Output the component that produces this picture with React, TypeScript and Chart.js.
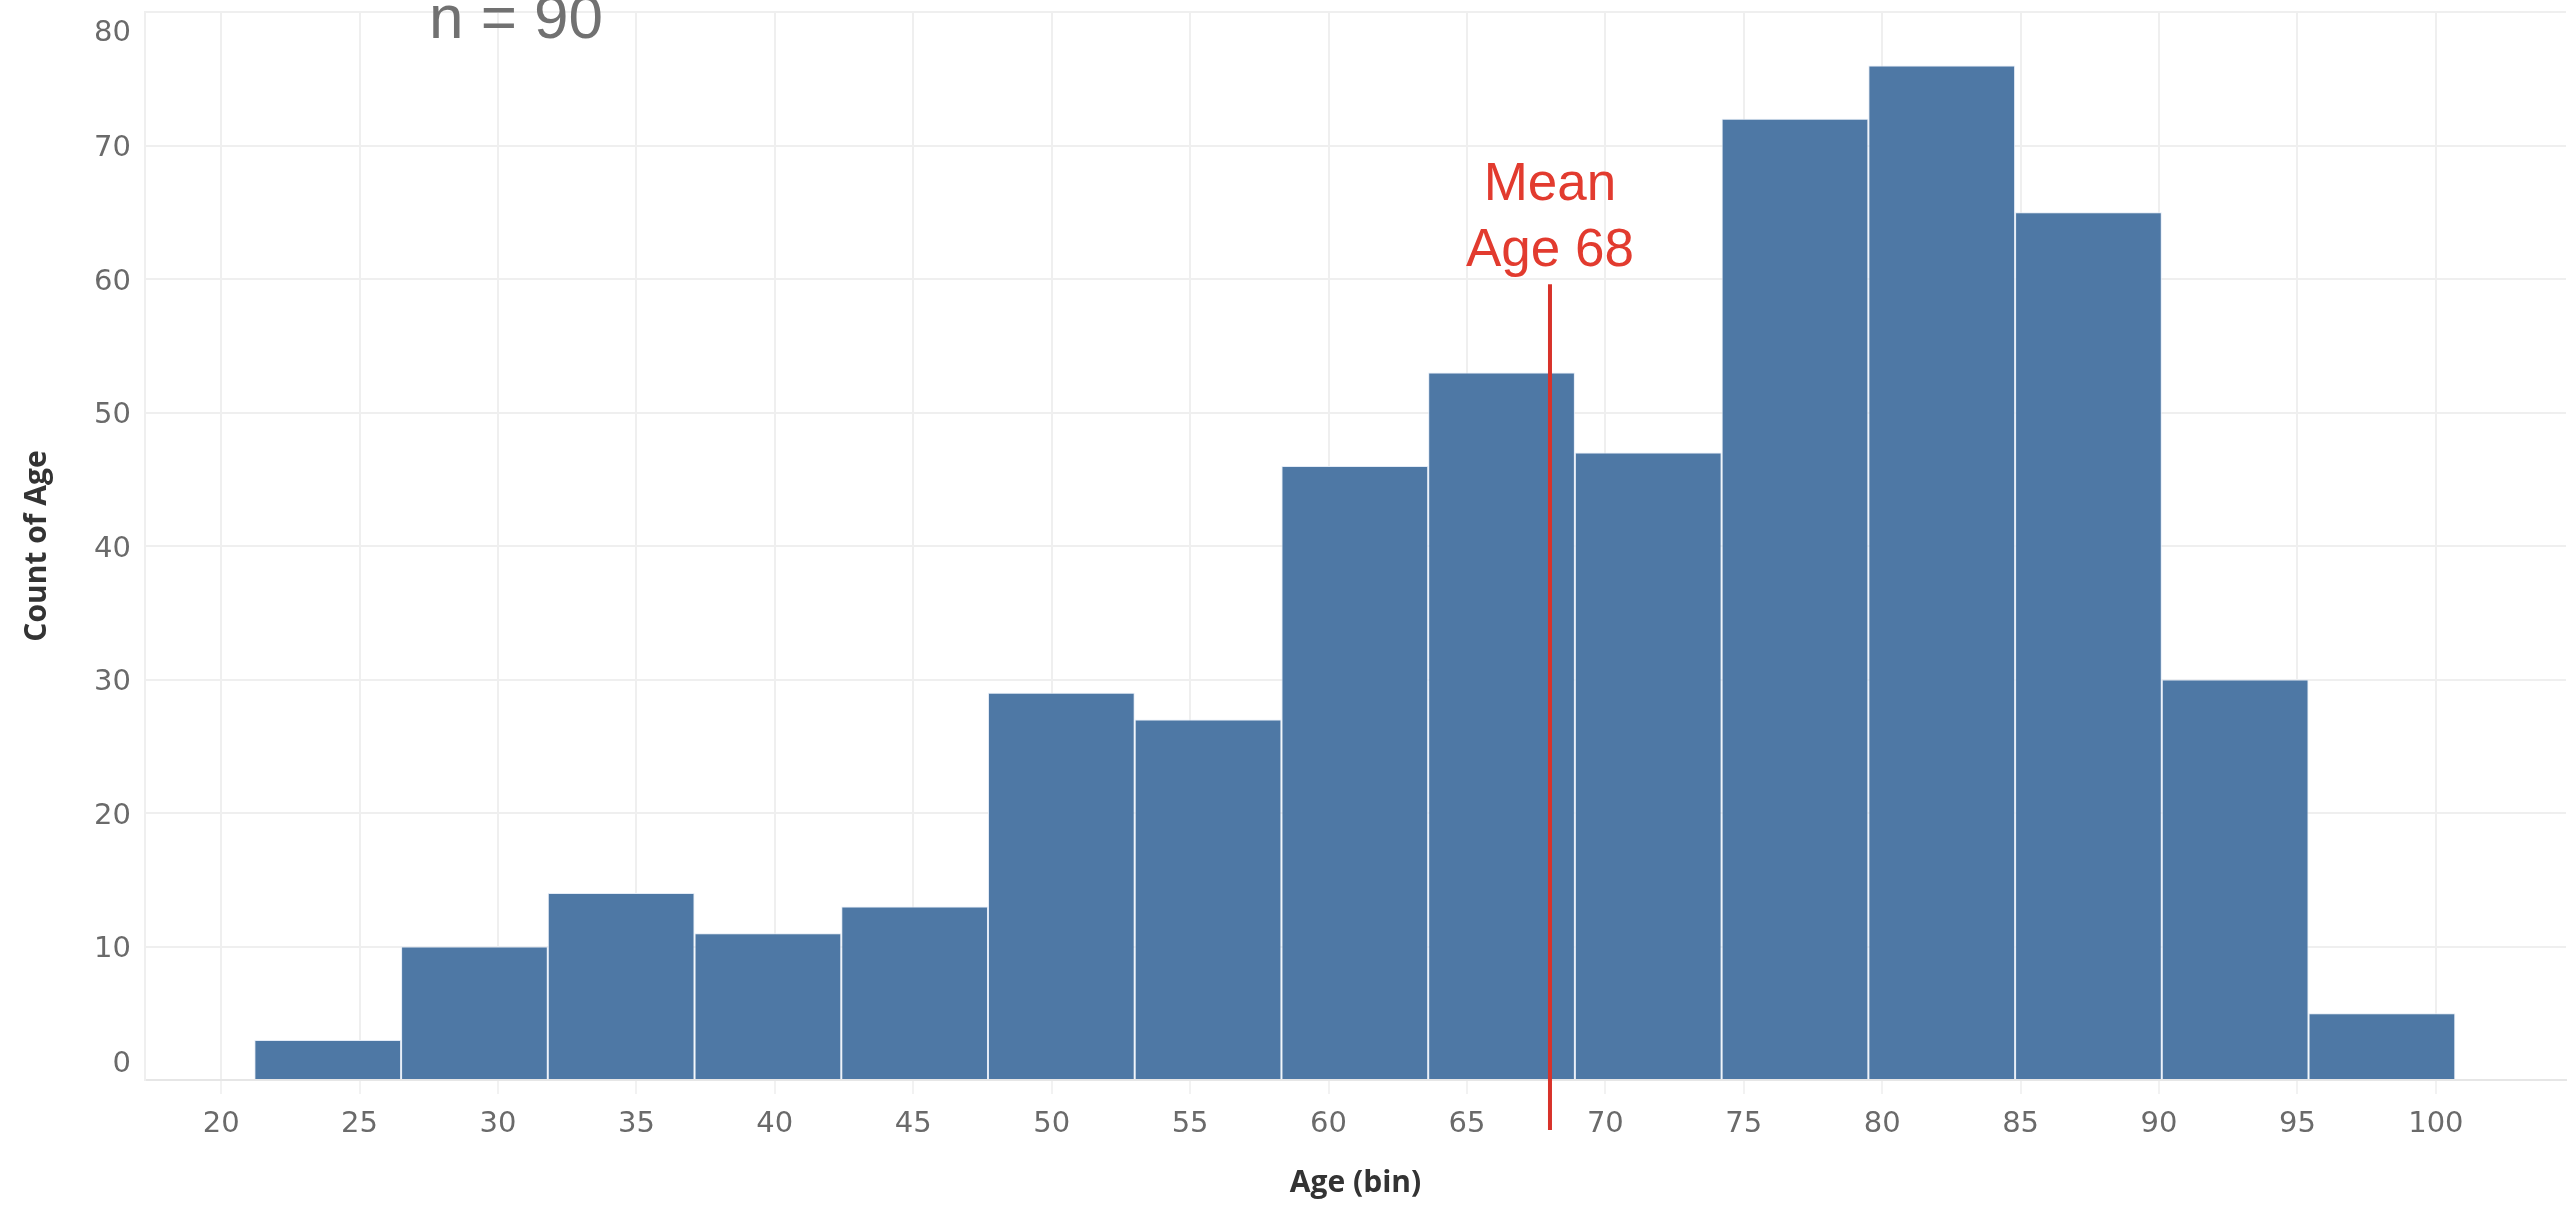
import React, { useEffect, useRef } from "react";
import { Chart, registerables } from "chart.js";

Chart.register(...registerables);

// ---- data ----
const binEdges = [21.2, 26.5, 31.8, 37.1, 42.4, 47.7, 53.0, 58.3, 63.6, 68.9, 74.2, 79.5, 84.8, 90.1, 95.4, 100.7];
const ageCounts = [3, 10, 14, 11, 13, 29, 27, 46, 53, 47, 72, 76, 65, 30, 5];
const xTickValues = [20, 25, 30, 35, 40, 45, 50, 55, 60, 65, 70, 75, 80, 85, 90, 95, 100];
const yTickValues = [0, 10, 20, 30, 40, 50, 60, 70, 80];
const meanAge = 68;
const meanLabelLines = ["Mean", "Age 68"];
const sampleLabel = "n = 90";
const xTitle = "Age (bin)";
const yTitle = "Count of Age";

const W = 2569;
const H = 1210;

export default function App() {
  const ref = useRef<HTMLCanvasElement | null>(null);

  useEffect(() => {
    if (!ref.current) return;
    const binWidth = binEdges[1] - binEdges[0];
    const tickStep = xTickValues[1] - xTickValues[0];
    const points = ageCounts.map((c, i) => ({ x: (binEdges[i] + binEdges[i + 1]) / 2, y: c }));
    const yMax = yTickValues[yTickValues.length - 1];
    const yMin = yTickValues[0];

    const overlay = {
      id: "overlay",
      afterDatasetsDraw(chart: any) {
        const { ctx, chartArea, scales } = chart;
        const x = scales.x;
        const y = scales.y;
        const mx = x.getPixelForValue(meanAge);
        ctx.save();
        ctx.strokeStyle = "#d8322a";
        ctx.lineWidth = 4;
        ctx.beginPath();
        ctx.moveTo(mx, y.getPixelForValue(59.6));
        ctx.lineTo(mx, chartArea.bottom + 50);
        ctx.stroke();
        ctx.restore();
      },
      afterDraw(chart: any) {
        const { ctx, scales } = chart;
        const x = scales.x;
        const y = scales.y;
        ctx.save();
        // y tick labels
        ctx.font = '29px "DejaVu Sans"';
        ctx.fillStyle = "#6a6a6a";
        ctx.textAlign = "right";
        ctx.textBaseline = "middle";
        yTickValues.forEach((v) => {
          const py = y.getPixelForValue(v);
          let off = 3;
          if (v === yMax) off = 21;
          if (v === yMin) off = -16;
          ctx.fillText(String(v), 131, py + off);
        });
        // mean label
        const mx = x.getPixelForValue(meanAge);
        ctx.font = '53px "Liberation Sans", Arial, sans-serif';
        ctx.fillStyle = "#e23b2f";
        ctx.textAlign = "center";
        ctx.textBaseline = "alphabetic";
        ctx.fillText(meanLabelLines[0], mx, y.getPixelForValue(65.9));
        ctx.fillText(meanLabelLines[1], mx, y.getPixelForValue(61.0));
        // sample size (clipped at top)
        ctx.font = '62px "Liberation Sans", Arial, sans-serif';
        ctx.fillStyle = "#717171";
        ctx.fillText(sampleLabel, 516, 38);
        ctx.restore();
      },
    };

    const chart = new Chart(ref.current, {
      type: "bar",
      data: {
        datasets: [
          {
            data: points,
            backgroundColor: "#4e78a5",
            borderColor: "rgba(225,234,245,0.95)",
            borderWidth: 1,
            borderSkipped: "start",
            categoryPercentage: 1,
            barPercentage: binWidth / tickStep,
          } as any,
        ],
      },
      options: {
        responsive: false,
        animation: false,
        devicePixelRatio: 1,
        layout: { padding: { left: 0, right: 3, top: 12, bottom: 0 } },
        plugins: { legend: { display: false }, tooltip: { enabled: false } },
        scales: {
          x: {
            type: "linear",
            offset: false,
            min: 17.25,
            max: 104.7,
            afterBuildTicks: (scale: any) => {
              scale.ticks = xTickValues.map((v) => ({ value: v }));
            },
            afterFit: (scale: any) => {
              scale.height = 130;
            },
            grid: {
              offset: false,
              color: "#efefef",
              lineWidth: 2,
              drawTicks: true,
              tickLength: 14,
              tickColor: "#f2f2f2",
            },
            border: { display: true, color: "#e6e6e6", width: 2 },
            ticks: {
              padding: 13,
              color: "#6a6a6a",
              font: { family: '"DejaVu Sans"', size: 29 },
              maxRotation: 0,
              autoSkip: false,
              callback: (v: any) => String(v),
            },
            title: {
              display: true,
              text: xTitle,
              color: "#333333",
              font: { family: '"Open Sans"', size: 30, weight: "bold" },
              padding: { top: 0, bottom: 9 },
            },
          },
          y: {
            type: "linear",
            min: yMin,
            max: yMax,
            afterBuildTicks: (scale: any) => {
              scale.ticks = yTickValues.map((v) => ({ value: v }));
            },
            afterFit: (scale: any) => {
              scale.width = 145;
            },
            grid: { color: "#efefef", lineWidth: 2, drawTicks: false },
            border: { display: true, color: "#efefef", width: 2 },
            ticks: { display: false },
            title: {
              display: true,
              text: yTitle,
              color: "#333333",
              font: { family: '"Open Sans"', size: 30, weight: "bold" },
              padding: { top: 19, bottom: 0 },
            },
          },
        },
      },
      plugins: [overlay],
    });
    return () => chart.destroy();
  }, []);

  return (
    <div style={{ position: "absolute", left: 0, top: 0, width: W, height: H, background: "#ffffff" }}>
      <canvas ref={ref} width={W} height={H} style={{ display: "block", width: W, height: H }} />
    </div>
  );
}
